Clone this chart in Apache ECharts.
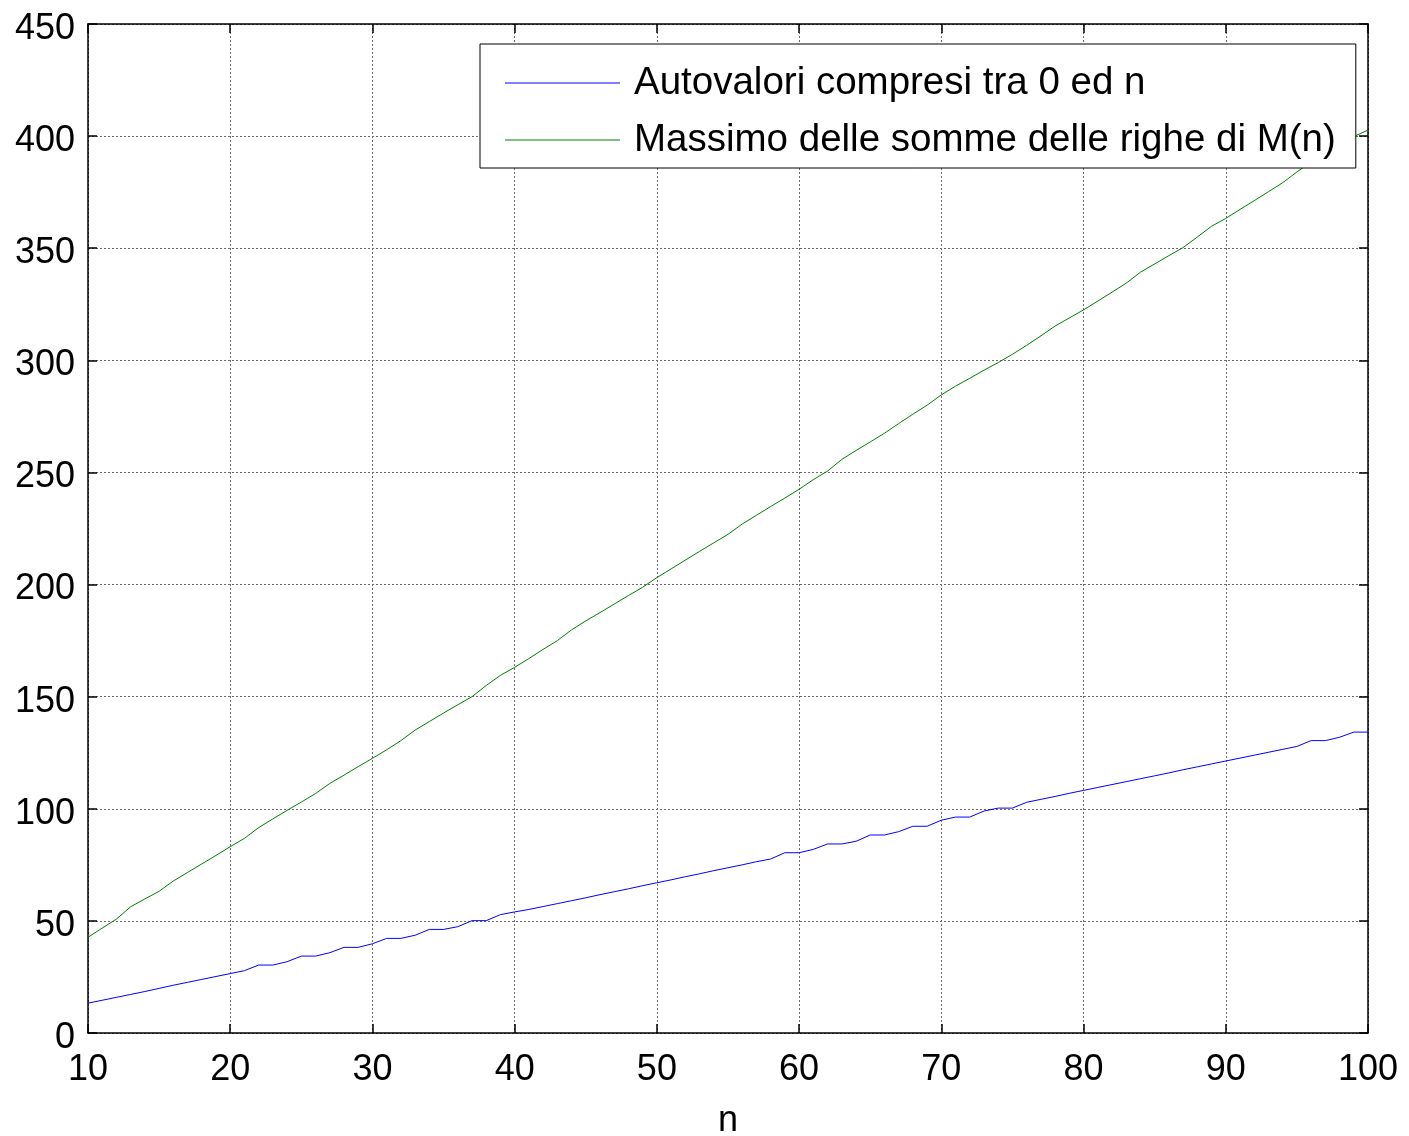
<!DOCTYPE html>
<html>
<head>
<meta charset="utf-8">
<script src="https://cdn.jsdelivr.net/npm/echarts@6/dist/echarts.min.js"></script>
<style>html,body{margin:0;padding:0;background:#fff}#c{width:1409px;height:1136px}</style>
</head>
<body>
<div id="c"></div>
<script>
const nValues = [10,11,12,13,14,15,16,17,18,19,20,21,22,23,24,25,26,27,28,29,30,31,32,33,34,35,36,37,38,39,40,41,42,43,44,45,46,47,48,49,50,51,52,53,54,55,56,57,58,59,60,61,62,63,64,65,66,67,68,69,70,71,72,73,74,75,76,77,78,79,80,81,82,83,84,85,86,87,88,89,90,91,92,93,94,95,96,97,98,99,100];
const autovalori = [13.3,14.6,15.9,17.2,18.5,19.9,21.3,22.6,23.9,25.2,26.5,27.8,30.3,30.3,31.8,34.3,34.3,35.8,38.2,38.2,39.8,42.2,42.2,43.6,46.2,46.2,47.4,50.1,50.1,52.8,54.0,55.1,56.4,57.7,59.0,60.3,61.7,63.0,64.3,65.7,67.0,68.3,69.7,71.0,72.4,73.7,75.0,76.4,77.6,80.4,80.4,81.9,84.3,84.3,85.5,88.3,88.3,89.8,92.2,92.2,94.9,96.3,96.3,99.0,100.3,100.3,102.9,104.2,105.5,106.9,108.2,109.5,110.8,112.1,113.4,114.7,116.0,117.4,118.7,120.0,121.3,122.6,123.9,125.2,126.5,127.8,130.4,130.4,131.9,134.2,134.2];
const massimo = [42.7,46.8,50.8,56.3,59.8,63.2,67.8,71.6,75.4,79.2,83.1,86.8,91.6,95.5,99.3,103.0,106.8,111.3,115.0,118.8,122.5,126.3,130.4,135.1,138.9,142.7,146.4,150.0,155.0,159.5,163.1,167.0,171.1,175.0,179.8,183.8,187.5,191.3,195.1,198.8,203.1,207.0,210.9,214.8,218.6,222.4,227.0,230.9,234.8,238.6,242.5,246.8,250.6,255.8,259.8,263.6,267.5,271.8,276.0,280.0,284.6,288.5,292.0,295.6,299.0,302.7,306.7,310.9,315.3,318.9,322.5,326.4,330.4,334.4,339.3,343.0,346.7,350.3,355.0,359.8,363.3,367.3,371.2,375.2,379.2,384.0,388.5,392.5,396.2,399.8,402.7];
const seriesNames = ['Autovalori compresi tra 0 ed n','Massimo delle somme delle righe di M(n)'];
const xTicks = {min:10, max:100, interval:10};
const yTicks = {min:0, max:450, interval:50};

const FONT = "'Liberation Sans', Arial, sans-serif";
const chart = echarts.init(document.getElementById('c'), null, {renderer:'canvas'});
const zip = (a,b) => a.map((v,i)=>[v,b[i]]);
const gridLine = {show:true, lineStyle:{color:'#6a6a6a', type:[2,2], width:1}};
const axisLine = {show:true, onZero:false, lineStyle:{color:'#000', width:1.5}};
const tick = {show:true, inside:true, length:9, lineStyle:{color:'#000', width:1.5}};
chart.setOption({
  animation:false,
  backgroundColor:'#fff',
  grid:{left:88, top:24, width:1280, height:1009, show:false, containLabel:false, outerBoundsMode:'none'},
  legend:{
    orient:'vertical', left:480, top:44,
    backgroundColor:'#fff', borderColor:'#000', borderWidth:1,
    padding:[19,20,8,25],
    icon:'rect', itemWidth:115, itemHeight:1.2, itemGap:17,
    textStyle:{fontFamily:FONT, fontSize:38.5, color:'#000', lineHeight:40, padding:[0,0,0,9]},
    data:seriesNames
  },
  xAxis:[
    {type:'value', min:xTicks.min, max:xTicks.max, interval:xTicks.interval, position:'bottom',
     name:'n', nameLocation:'middle', nameGap:70, nameTextStyle:{fontFamily:FONT, fontSize:36, color:'#000'},
     axisLine:axisLine, axisTick:tick, splitLine:gridLine,
     axisLabel:{fontFamily:FONT, fontSize:36, color:'#000', margin:19}},
    {type:'value', min:xTicks.min, max:xTicks.max, interval:xTicks.interval, position:'top',
     axisLine:axisLine, axisTick:tick, splitLine:{show:false}, axisLabel:{show:false}}
  ],
  yAxis:[
    {type:'value', min:yTicks.min, max:yTicks.max, interval:yTicks.interval, position:'left',
     axisLine:axisLine, axisTick:tick, splitLine:gridLine,
     axisLabel:{margin:13, formatter:'{a|{value}}',
       rich:{a:{fontFamily:FONT, fontSize:36, color:'#000', padding:[10,0,0,0]}}}},
    {type:'value', min:yTicks.min, max:yTicks.max, interval:yTicks.interval, position:'right',
     axisLine:axisLine, axisTick:tick, splitLine:{show:false}, axisLabel:{show:false}}
  ],
  series:[
    {name:seriesNames[0], type:'line', xAxisIndex:0, yAxisIndex:0, data:zip(nValues, autovalori),
     symbol:'none', lineStyle:{color:'#0000ff', width:1}, itemStyle:{color:'#0000ff'}, z:3},
    {name:seriesNames[1], type:'line', xAxisIndex:0, yAxisIndex:0, data:zip(nValues, massimo),
     symbol:'none', lineStyle:{color:'#008000', width:1}, itemStyle:{color:'#008000'}, z:3}
  ]
});
</script>
</body>
</html>
